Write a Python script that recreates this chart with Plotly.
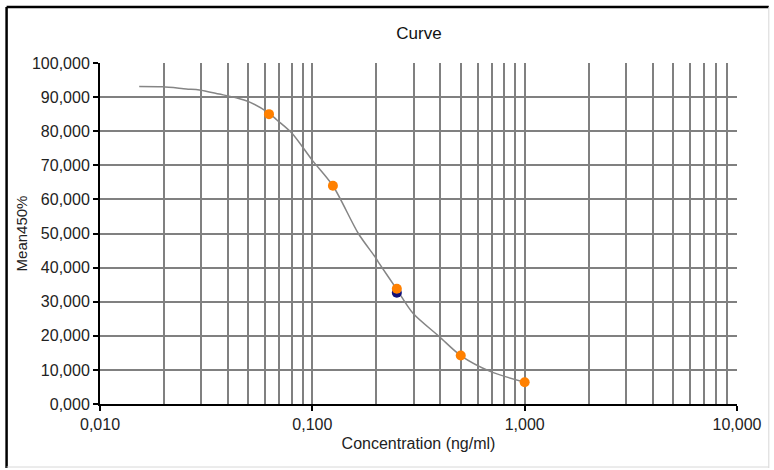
import plotly.graph_objects as go

# Standards (orange) and a second replicate (navy)
std_conc = [0.0625, 0.125, 0.25, 0.5, 1.0]
std_mean = [85.0, 64.0, 33.8, 14.2, 6.4]
rep_conc = [0.25]
rep_mean = [32.6]

# Fitted curve
curve_conc = [0.0153, 0.0197, 0.0255, 0.0294, 0.0364, 0.0438, 0.0504, 0.0625, 0.0681,
              0.0802, 0.0996, 0.125, 0.1647, 0.1971, 0.2042, 0.25, 0.2979, 0.3973,
              0.5, 0.692, 1.0]
curve_mean = [93.1, 93.0, 92.4, 92.1, 90.9, 89.8, 88.6, 85.3, 83.3,
              79.4, 71.6, 64.0, 50.0, 43.2, 41.7, 33.6, 26.6, 19.7,
              14.2, 9.5, 6.4]

x_tickvals = [0.01, 0.1, 1, 10]
x_ticktext = ["0,010", "0,100", "1,000", "10,000"]
y_tickvals = [0, 10, 20, 30, 40, 50, 60, 70, 80, 90, 100]
y_ticktext = ["0,000", "10,000", "20,000", "30,000", "40,000", "50,000",
              "60,000", "70,000", "80,000", "90,000", "100,000"]
minor_mult = [2, 3, 4, 5, 6, 7, 8, 9]
decades = [0.01, 0.1, 1]
x_minor = [d * m for d in decades for m in minor_mult]

grid = "#808080"
font = "Liberation Sans, Arial, sans-serif"

fig = go.Figure()
fig.add_trace(go.Scatter(x=curve_conc, y=curve_mean, mode="lines",
                         line=dict(color="#858585", width=1.5, shape="spline",
                                   smoothing=0.8),
                         hoverinfo="skip", showlegend=False))
fig.add_trace(go.Scatter(x=rep_conc, y=rep_mean, mode="markers",
                         marker=dict(color="#10107a", size=10), showlegend=False))
fig.add_trace(go.Scatter(x=std_conc, y=std_mean, mode="markers",
                         marker=dict(color="#ff8000", size=10), showlegend=False))

W, H = 774, 470
L, R, T, B = 100, 33, 63, 66
pw, ph = W - L - R, H - T - B


def px(x):
    return (x - L) / pw


def py(y):
    return (H - B - y) / ph


frame = [
    (px(6), py(7), px(6), py(468), "black", 2.5),
    (px(6), py(7), px(773), py(7), "black", 2.5),
    (px(773), py(7), px(773), py(468), "#d8d8d8", 1),
    (px(6), py(467), px(773), py(467), "#d8d8d8", 1),
]
shapes = [dict(type="line", xref="paper", yref="paper", x0=a, y0=b, x1=c, y1=d,
               line=dict(color=col, width=w)) for a, b, c, d, col, w in frame]

fig.update_layout(
    width=W, height=H,
    margin=dict(l=L, r=R, t=T, b=B),
    paper_bgcolor="white", plot_bgcolor="white",
    font=dict(family=font, size=16, color="#222222"),
    title=dict(text="Curve", x=419 / W, xanchor="center", y=1 - 33 / H,
               yanchor="middle", font=dict(size=17, color="#111111")),
    shapes=shapes,
    xaxis=dict(type="log", range=[-2, 1], tickvals=x_tickvals, ticktext=x_ticktext,
               showgrid=True, gridcolor=grid, gridwidth=2,
               minor=dict(tickvals=x_minor, showgrid=True, gridcolor=grid,
                          gridwidth=2, ticks=""),
               showline=True, linecolor="black", linewidth=2,
               ticks="outside", ticklen=5, tickcolor="black", tickwidth=2,
               title=dict(text="Concentration (ng/ml)", standoff=6,
                          font=dict(size=16)),
               zeroline=False),
    yaxis=dict(range=[0, 100], tickvals=y_tickvals, ticktext=y_ticktext,
               showgrid=True, gridcolor=grid, gridwidth=2,
               showline=True, linecolor="black", linewidth=2,
               ticks="outside", ticklen=5, tickcolor="black", tickwidth=2,
               title=dict(text="Mean450%", standoff=1, font=dict(size=15)),
               zeroline=False),
)

fig.write_html("out.html", config={"displayModeBar": False},
               post_script="document.body.style.margin='0';document.body.style.padding='0';")
